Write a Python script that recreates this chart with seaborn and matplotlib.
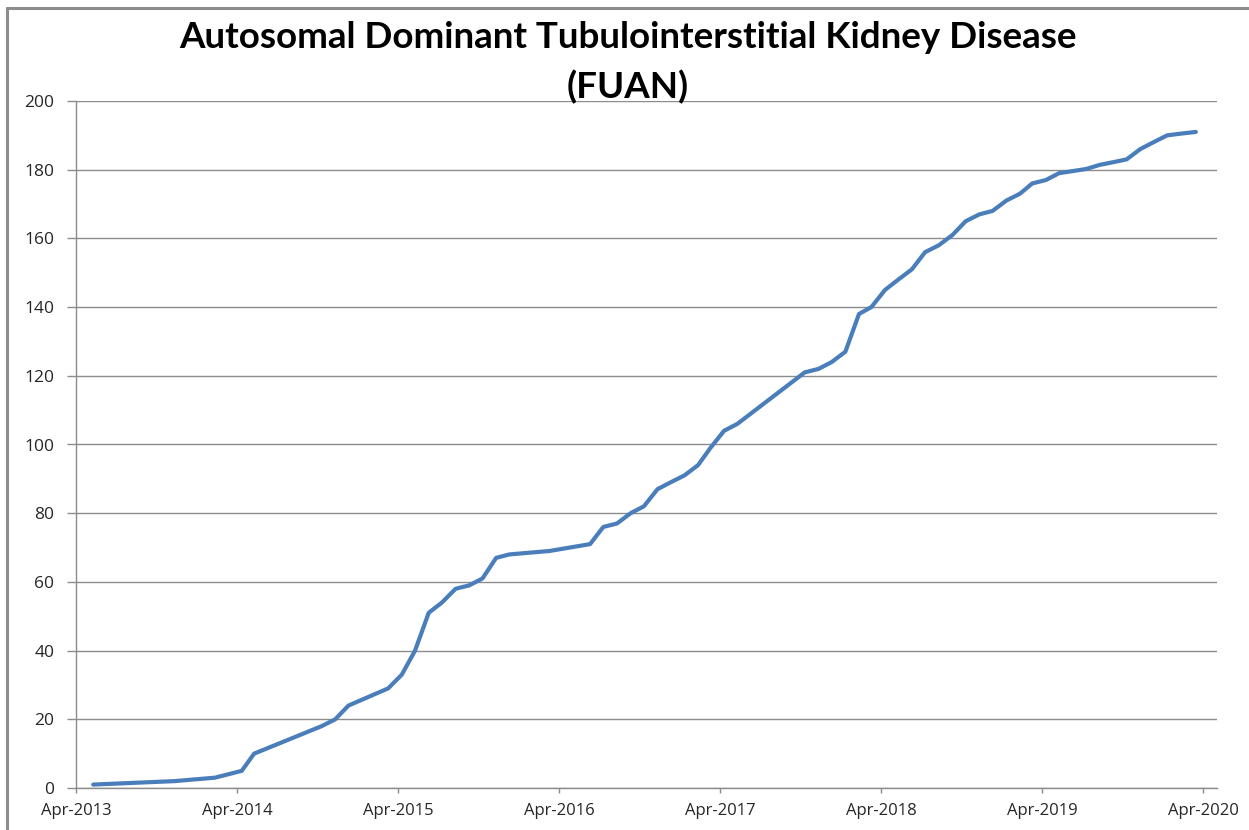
import matplotlib
matplotlib.use("Agg")
import matplotlib.pyplot as plt
from matplotlib.lines import Line2D
import seaborn as sns
import pandas as pd

# ---- data ----
dates = [
    "2013-05-10", "2013-11-10", "2014-02-10", "2014-04-12", "2014-05-10",
    "2014-10-10", "2014-11-10", "2014-12-10", "2015-03-10", "2015-04-10",
    "2015-05-10", "2015-06-10", "2015-07-10", "2015-08-10", "2015-09-10",
    "2015-10-10", "2015-11-10", "2015-12-10", "2016-03-10", "2016-06-10",
    "2016-07-10", "2016-08-10", "2016-09-10", "2016-10-10", "2016-11-10",
    "2016-12-10", "2017-01-10", "2017-02-10", "2017-03-10", "2017-04-10",
    "2017-05-10", "2017-10-10", "2017-11-10", "2017-12-10", "2018-01-10",
    "2018-02-10", "2018-03-10", "2018-04-10", "2018-05-10", "2018-06-10",
    "2018-07-10", "2018-08-10", "2018-09-10", "2018-10-10", "2018-11-10",
    "2018-12-10", "2019-01-10", "2019-02-10", "2019-03-10", "2019-04-10",
    "2019-05-10", "2019-06-10", "2019-07-10", "2019-08-10", "2019-09-10",
    "2019-10-10", "2019-11-10", "2019-12-10", "2020-01-10", "2020-02-10",
    "2020-03-15",
]
cases = [
    1, 2, 3, 5, 10,
    18, 20, 24, 29, 33,
    40, 51, 54, 58, 59,
    61, 67, 68, 69, 71,
    76, 77, 80, 82, 87,
    89, 91, 94, 99, 104,
    106, 121, 122, 124, 127,
    138, 140, 145, 148, 151,
    156, 158, 161, 165, 167,
    168, 171, 173, 176, 177,
    179, 179.6, 180.2, 181.4, 182.2,
    183, 186, 188, 190, 190.5,
    191,
]
y_ticks = [0, 20, 40, 60, 80, 100, 120, 140, 160, 180, 200]
x_tick_labels = ["Apr-2013", "Apr-2014", "Apr-2015", "Apr-2016",
                 "Apr-2017", "Apr-2018", "Apr-2019", "Apr-2020"]
title_line1 = "Autosomal Dominant Tubulointerstitial Kidney Disease"
title_line2 = "(FUAN)"

df = pd.DataFrame({"date": pd.to_datetime(dates), "cases": cases})

sns.set_style("white")
plt.rcParams["font.family"] = ["Open Sans", "DejaVu Sans"]

W, H = 1249, 830
fig = plt.figure(figsize=(W / 100, H / 100), dpi=100, facecolor="white",
                 edgecolor="white", linewidth=0)
ax = fig.add_axes([76 / W, 1 - 788 / H, (1217 - 76) / W, (788 - 101) / H])

sns.lineplot(data=df, x="date", y="cases", ax=ax, color="#4a7ebb",
             linewidth=3.0, solid_joinstyle="round", solid_capstyle="round")

grid_c = "#8c8c8c"
ax.set_xlim(pd.Timestamp("2013-04-01"), pd.Timestamp("2020-05-02"))
ax.set_ylim(0, 200)
ax.set_yticks(y_ticks)
ax.set_xticks(pd.to_datetime(["%s-04-01" % l.split("-")[1] for l in x_tick_labels]))
ax.set_xticklabels(x_tick_labels)
ax.yaxis.grid(True, color=grid_c, linewidth=1.0)
ax.set_axisbelow(True)
ax.set_xlabel("")
ax.set_ylabel("")
for s in ["top", "right"]:
    ax.spines[s].set_visible(False)
for s in ["left", "bottom"]:
    ax.spines[s].set_color(grid_c)
    ax.spines[s].set_linewidth(1.0)
ax.tick_params(axis="y", length=6.5, width=1, color=grid_c, labelsize=12.5,
               labelcolor="#262626", pad=9, left=True)
ax.tick_params(axis="x", length=3.6, width=1, color=grid_c, labelsize=12,
               labelcolor="#262626", pad=7, bottom=True)

# outer chart border (only top and left edges fall inside the frame)
fig.add_artist(Line2D([7 / W, 7 / W], [0, 1 - 8 / H], transform=fig.transFigure,
                      color="#8c8c8c", linewidth=2.2))
fig.add_artist(Line2D([7 / W, 1.01], [1 - 8 / H, 1 - 8 / H], transform=fig.transFigure,
                      color="#8c8c8c", linewidth=2.2))

# title, fitted to reference width
t1 = fig.text(628 / W, 1 - 38 / H, title_line1, ha="center", va="center",
              fontsize=24, fontweight="bold", family=["Lato", "DejaVu Sans"],
              color="black")
t2 = fig.text(628 / W, 1 - 87 / H, title_line2, ha="center", va="center",
              fontsize=24, fontweight="bold", family=["Lato", "DejaVu Sans"],
              color="black")
fig.canvas.draw()
w = t1.get_window_extent().width
fs = 24 * 902 / w
t1.set_fontsize(fs)
t2.set_fontsize(fs)

fig.savefig("out.png", dpi=100, facecolor="white", edgecolor="white")
